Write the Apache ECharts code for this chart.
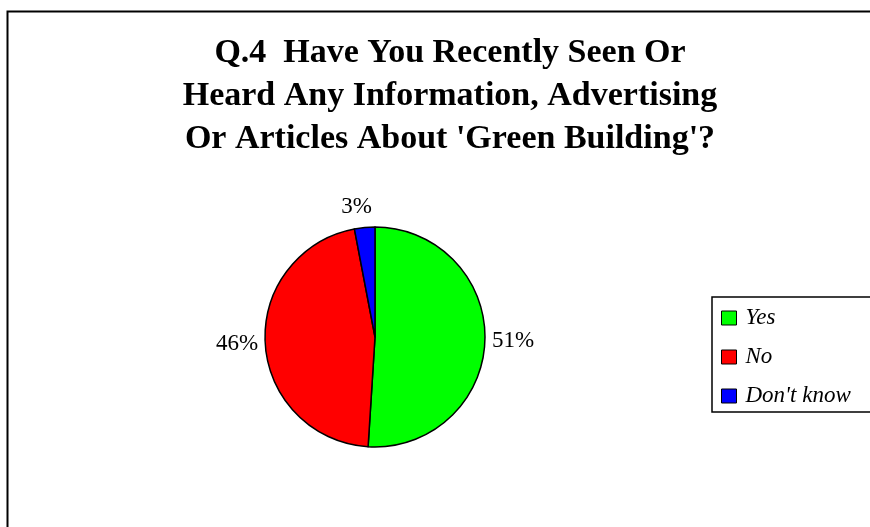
<!DOCTYPE html>
<html>
<head>
<meta charset="utf-8">
<script src="https://cdn.jsdelivr.net/npm/echarts@6/dist/echarts.min.js"></script>
<style>
  html, body { margin: 0; padding: 0; background: #fff; }
  #chart { width: 870px; height: 527px; }
</style>
</head>
<body>
<div id="chart"></div>
<script>
// Survey answers and their shares (percent)
const answers = ['Yes', 'No', "Don't know"];
const shares = [51, 46, 3];
const sliceColors = ['#00ff00', '#ff0000', '#0000ff'];
const titleText = "Q.4  Have You Recently Seen Or\nHeard Any Information, Advertising\nOr Articles About 'Green Building'?";

// the thin top slice gets its label nudged up and right
const labelNudge = { "Don't know": [8, -14] };

const chart = echarts.init(document.getElementById('chart'));

chart.setOption({
  backgroundColor: '#ffffff',
  animation: false,
  graphic: [{
    type: 'rect',
    left: 5, top: 9,
    shape: { width: 900, height: 600 },
    style: { fill: 'none', stroke: '#000', lineWidth: 2 },
    z: -1
  }],
  title: {
    text: titleText,
    left: 450,
    textAlign: 'center',
    top: 32,
    padding: 0,
    textStyle: {
      fontFamily: 'Liberation Serif',
      fontWeight: 'bold',
      fontSize: 34,
      lineHeight: 43,
      color: '#000'
    }
  },
  legend: {
    orient: 'vertical',
    left: 712,
    top: 297,
    data: answers,
    icon: 'rect',
    itemWidth: 15,
    itemHeight: 14,
    itemGap: 15,
    padding: [9, 40, 4, 9],
    borderColor: '#000',
    borderWidth: 1.5,
    itemStyle: { borderColor: '#000', borderWidth: 1 },
    textStyle: {
      fontFamily: 'Liberation Serif',
      fontStyle: 'italic',
      fontSize: 23,
      lineHeight: 24,
      color: '#000',
      padding: [0, 0, 0, 4]
    }
  },
  series: [{
    type: 'pie',
    center: [375, 337],
    radius: 110,
    startAngle: 90,
    clockwise: true,
    data: answers.map((name, i) => ({
      name,
      value: shares[i],
      itemStyle: { color: sliceColors[i] },
      label: labelNudge[name] ? { offset: labelNudge[name] } : undefined
    })),
    itemStyle: { borderColor: '#000', borderWidth: 1.5 },
    label: {
      show: true,
      position: 'outside',
      formatter: p => p.value + '%',
      fontFamily: 'Liberation Serif',
      fontSize: 23,
      color: '#000',
      distanceToLabelLine: 0
    },
    labelLine: { show: false, length: 7, length2: 0 },
    emphasis: { disabled: true }
  }]
});
</script>
</body>
</html>
